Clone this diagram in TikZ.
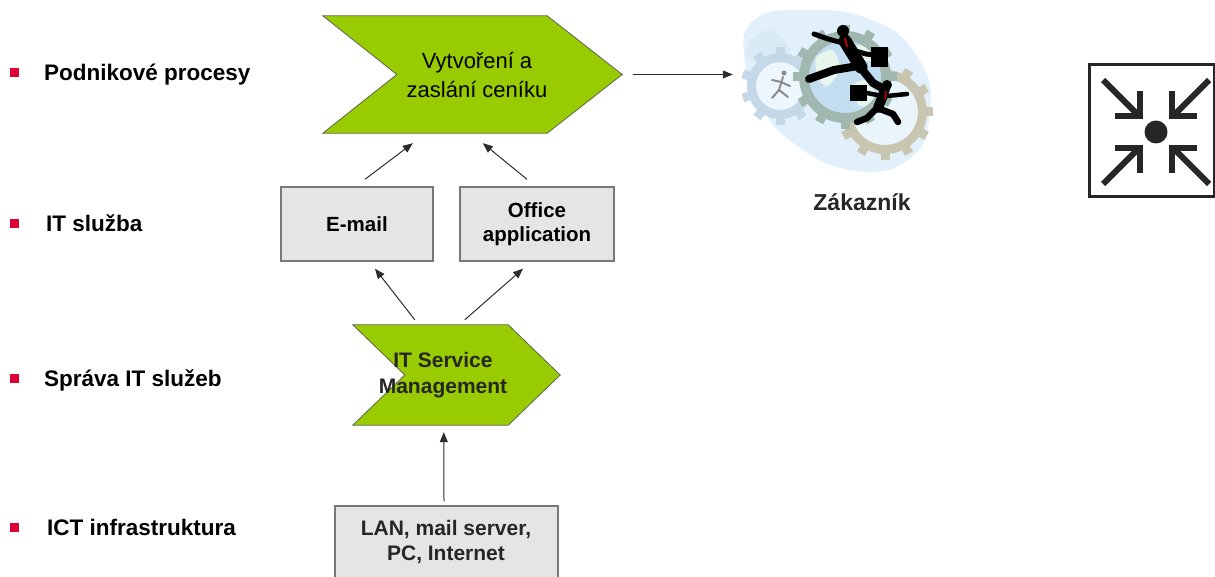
\documentclass[tikz,border=0pt]{standalone}
\usepackage{fontspec}
\setmainfont{Liberation Sans}
\usetikzlibrary{arrows.meta,calc}

\definecolor{procgreen}{RGB}{153,204,0}
\definecolor{chevedge}{RGB}{90,100,80}
\definecolor{boxgrey}{RGB}{229,229,229}
\definecolor{boxedge}{RGB}{120,120,120}
\definecolor{arrgrey}{RGB}{45,45,45}
\definecolor{bulletred}{RGB}{222,0,50}
\definecolor{skyA}{RGB}{225,240,250}
\definecolor{skyB}{RGB}{195,222,240}
\definecolor{landA}{RGB}{232,245,236}
\definecolor{gearA}{RGB}{160,184,175}
\definecolor{gearB}{RGB}{200,198,176}
\definecolor{gearC}{RGB}{196,216,232}

% cogwheel: centre x, centre y, inner radius, outer radius, teeth, colour
\newcommand{\cogwheel}[6]{%
  \fill[#6, even odd rule] (#1,#2) circle[radius=#4] (#1,#2) circle[radius=#3];
  \foreach \k in {1,...,#5}{%
    \begin{scope}[shift={(#1,#2)}, rotate=360/#5*\k]
      \fill[#6] (-4.5,-#4-6) rectangle (4.5,-#4+1);
    \end{scope}}%
}

\tikzset{
  chev/.style={fill=procgreen, draw=chevedge, line width=0.8pt},
  itbox/.style={draw=boxedge, fill=boxgrey, line width=1.4pt, inner sep=0pt,
    font=\bfseries\fontsize{20.5}{24}\selectfont, align=center},
  conn/.style={draw=arrgrey, line width=1pt, -{Triangle[length=10pt,width=8pt]}},
  lbl/.style={font=\bfseries\fontsize{22.5}{27}\selectfont, anchor=west,
    inner sep=0pt, text height=16pt, text depth=0pt},
  bullet/.style={fill=bulletred, minimum size=9pt, inner sep=0pt},
  figure/.style={line width=#1, line cap=round, line join=round, draw=black},
  gatherline/.style={line width=6pt, draw=black!85},
}

\begin{document}
\begin{tikzpicture}[x=1pt,y=-1pt]
\useasboundingbox (0,0) rectangle (1215,577);

% ---- layer labels on the left
\node[bullet] (b1) at (14.5,73) {};
\node[lbl] (l1) at (44,73) {Podnikové procesy};
\node[bullet] (b2) at (14.5,224) {};
\node[lbl] (l2) at (46,224) {IT služba};
\node[bullet] (b3) at (14.5,378) {};
\node[lbl] (l3) at (44,378) {Správa IT služeb};
\node[bullet] (b4) at (14.5,527) {};
\node[lbl] (l4) at (47,527) {ICT infrastruktura};

% ---- business process chevron
\node[minimum width=299pt, minimum height=117pt, inner sep=0pt] (proc) at (472.5,74.5) {};
\path[chev] (proc.north west) -- ($(proc.north east)+(-75,0)$) -- (proc.east)
  -- ($(proc.south east)+(-75,0)$) -- (proc.south west) -- ($(proc.west)+(74,0)$) -- cycle;
\node[font=\fontsize{22}{29}\selectfont, align=center] (proctext) at (477,75)
  {Vytvoření a\\zaslání ceníku};

% ---- IT services
\node[itbox, minimum width=152pt, minimum height=74pt] (email) at (357,224) {E-mail};
\node[itbox, minimum width=154pt, minimum height=74pt] (office) at (537,224) {Office\\application};

% ---- IT service management chevron
\node[minimum width=207pt, minimum height=100pt, inner sep=0pt] (itsm) at (456.5,375) {};
\path[chev] (itsm.north west) -- ($(itsm.north east)+(-52,0)$) -- (itsm.east)
  -- ($(itsm.south east)+(-52,0)$) -- (itsm.south west) -- ($(itsm.west)+(52,0)$) -- cycle;
\node[font=\bfseries\fontsize{21}{26}\selectfont, align=center, text=black!85] (itsmtext) at (443,375)
  {IT Service\\Management};

% ---- infrastructure
\node[itbox, minimum width=223pt, minimum height=78pt] (lan) at (446.5,545) {};
\node[font=\bfseries\fontsize{21}{25}\selectfont, align=center, text=black!85] (lantext) at (446,542.5)
  {LAN, mail server,\\PC, Internet};

% ---- connectors
\draw[conn] ($(email.north)+(8,-7)$) -- ($(proc.south west)+(90,10)$);
\draw[conn] ($(office.north)+(-10,-7)$) -- ($(proc.south west)+(160,10)$);
\draw[conn] ($(itsm.north west)+(62,-5)$) -- ($(email.south)+(18,7)$);
\draw[conn] ($(itsm.north west)+(112,-5)$) -- ($(office.south)+(-14,7)$);
\draw[conn] ($(lan.north)+(-2.5,-4)$) -- ($(itsm.south west)+(91,7)$);

% ---- customer clip art
\node[minimum width=204pt, minimum height=160pt, inner sep=0pt] (clip) at (835,76) {};
\draw[conn] ($(proc.east)+(11,0)$) -- (proc.east -| clip.west);

\fill[skyA] plot[smooth cycle, tension=0.8] coordinates
  {(752,22) (800,10) (872,20) (918,58) (930,112) (908,160) (850,170) (792,142) (760,104) (745,62)};
\fill[skyB!60] plot[smooth cycle] coordinates {(750,40) (772,30) (790,50) (770,62) (748,58)};
% faded gear on the left with a small grey runner
\fill[skyA!60!white] (780,86) circle[radius=24];
\cogwheel{780}{86}{24}{33}{10}{gearC}
\draw[figure=2pt, draw=black!45] (783,77) -- (779,90) (779,90) -- (772,98) (779,90) -- (788,97)
  (781,82) -- (772,80) (781,82) -- (790,86);
\fill[black!45] (784,73) circle[radius=2.5];
% khaki gear
\fill[skyA!70!white] (885,112) circle[radius=33];
\cogwheel{885}{112}{33}{42}{12}{gearB}
% big gear with a globe inside
\fill[skyB] (845,77) circle[radius=36];
\fill[landA] plot[smooth cycle] coordinates {(816,58) (832,50) (840,68) (828,86) (818,78)};
\fill[landA] plot[smooth cycle] coordinates {(852,86) (870,80) (874,100) (860,106)};
\fill[landA] plot[smooth cycle] coordinates {(856,46) (872,48) (876,60) (862,60)};
\cogwheel{845}{77}{36}{46}{12}{gearA}
% first business man
\fill (843,31) circle[radius=6];
\draw[figure=13pt] (845,41) -- (861,67);
\draw[figure=5pt] (843,43) -- (828,39) -- (814,34);
\draw[figure=5pt] (852,50) -- (866,54) -- (874,55);
\fill (871,47) rectangle (888,67);
\draw[figure=8pt] (858,66) -- (834,70) -- (809,79);
\draw[figure=8pt] (861,68) -- (873,83) -- (886,90);
\draw[red!80!black, line width=1.8pt] (845,38) -- (847,47);
% second business man
\fill (887,85) circle[radius=5];
\draw[figure=10pt] (884,93) -- (878,108);
\draw[figure=4.5pt] (882,96) -- (867,93);
\fill (850,85) rectangle (867,101);
\draw[figure=4.5pt] (887,96) -- (907,94);
\draw[figure=6.5pt] (876,109) -- (867,118) -- (857,122);
\draw[figure=6.5pt] (880,109) -- (893,114) -- (898,122);
\draw[red!80!black, line width=1.5pt] (886,91) -- (885,99);

\node[font=\bfseries\fontsize{23}{27}\selectfont, text=black!85] (cust) at (862,202) {Zákazník};

% ---- assembly point sign
\node[draw=black!85, line width=3pt, minimum width=125pt, minimum height=132pt, inner sep=0pt]
  (sign) at (1151.5,131) {};
\coordinate (c) at (1156,132);
\fill[black!85] (c) circle[radius=11.5];
\foreach \sx/\sy in {1/1,-1/1,1/-1,-1/-1}{
  \begin{scope}[shift={(c)}, xscale=\sx, yscale=\sy]
    \draw[gatherline, line cap=butt] (-53,-52) -- (-18,-17);
    \draw[gatherline, line cap=butt, line join=miter] (-16,-41) -- (-16,-16) -- (-41,-16);
  \end{scope}}

\end{tikzpicture}
\end{document}
